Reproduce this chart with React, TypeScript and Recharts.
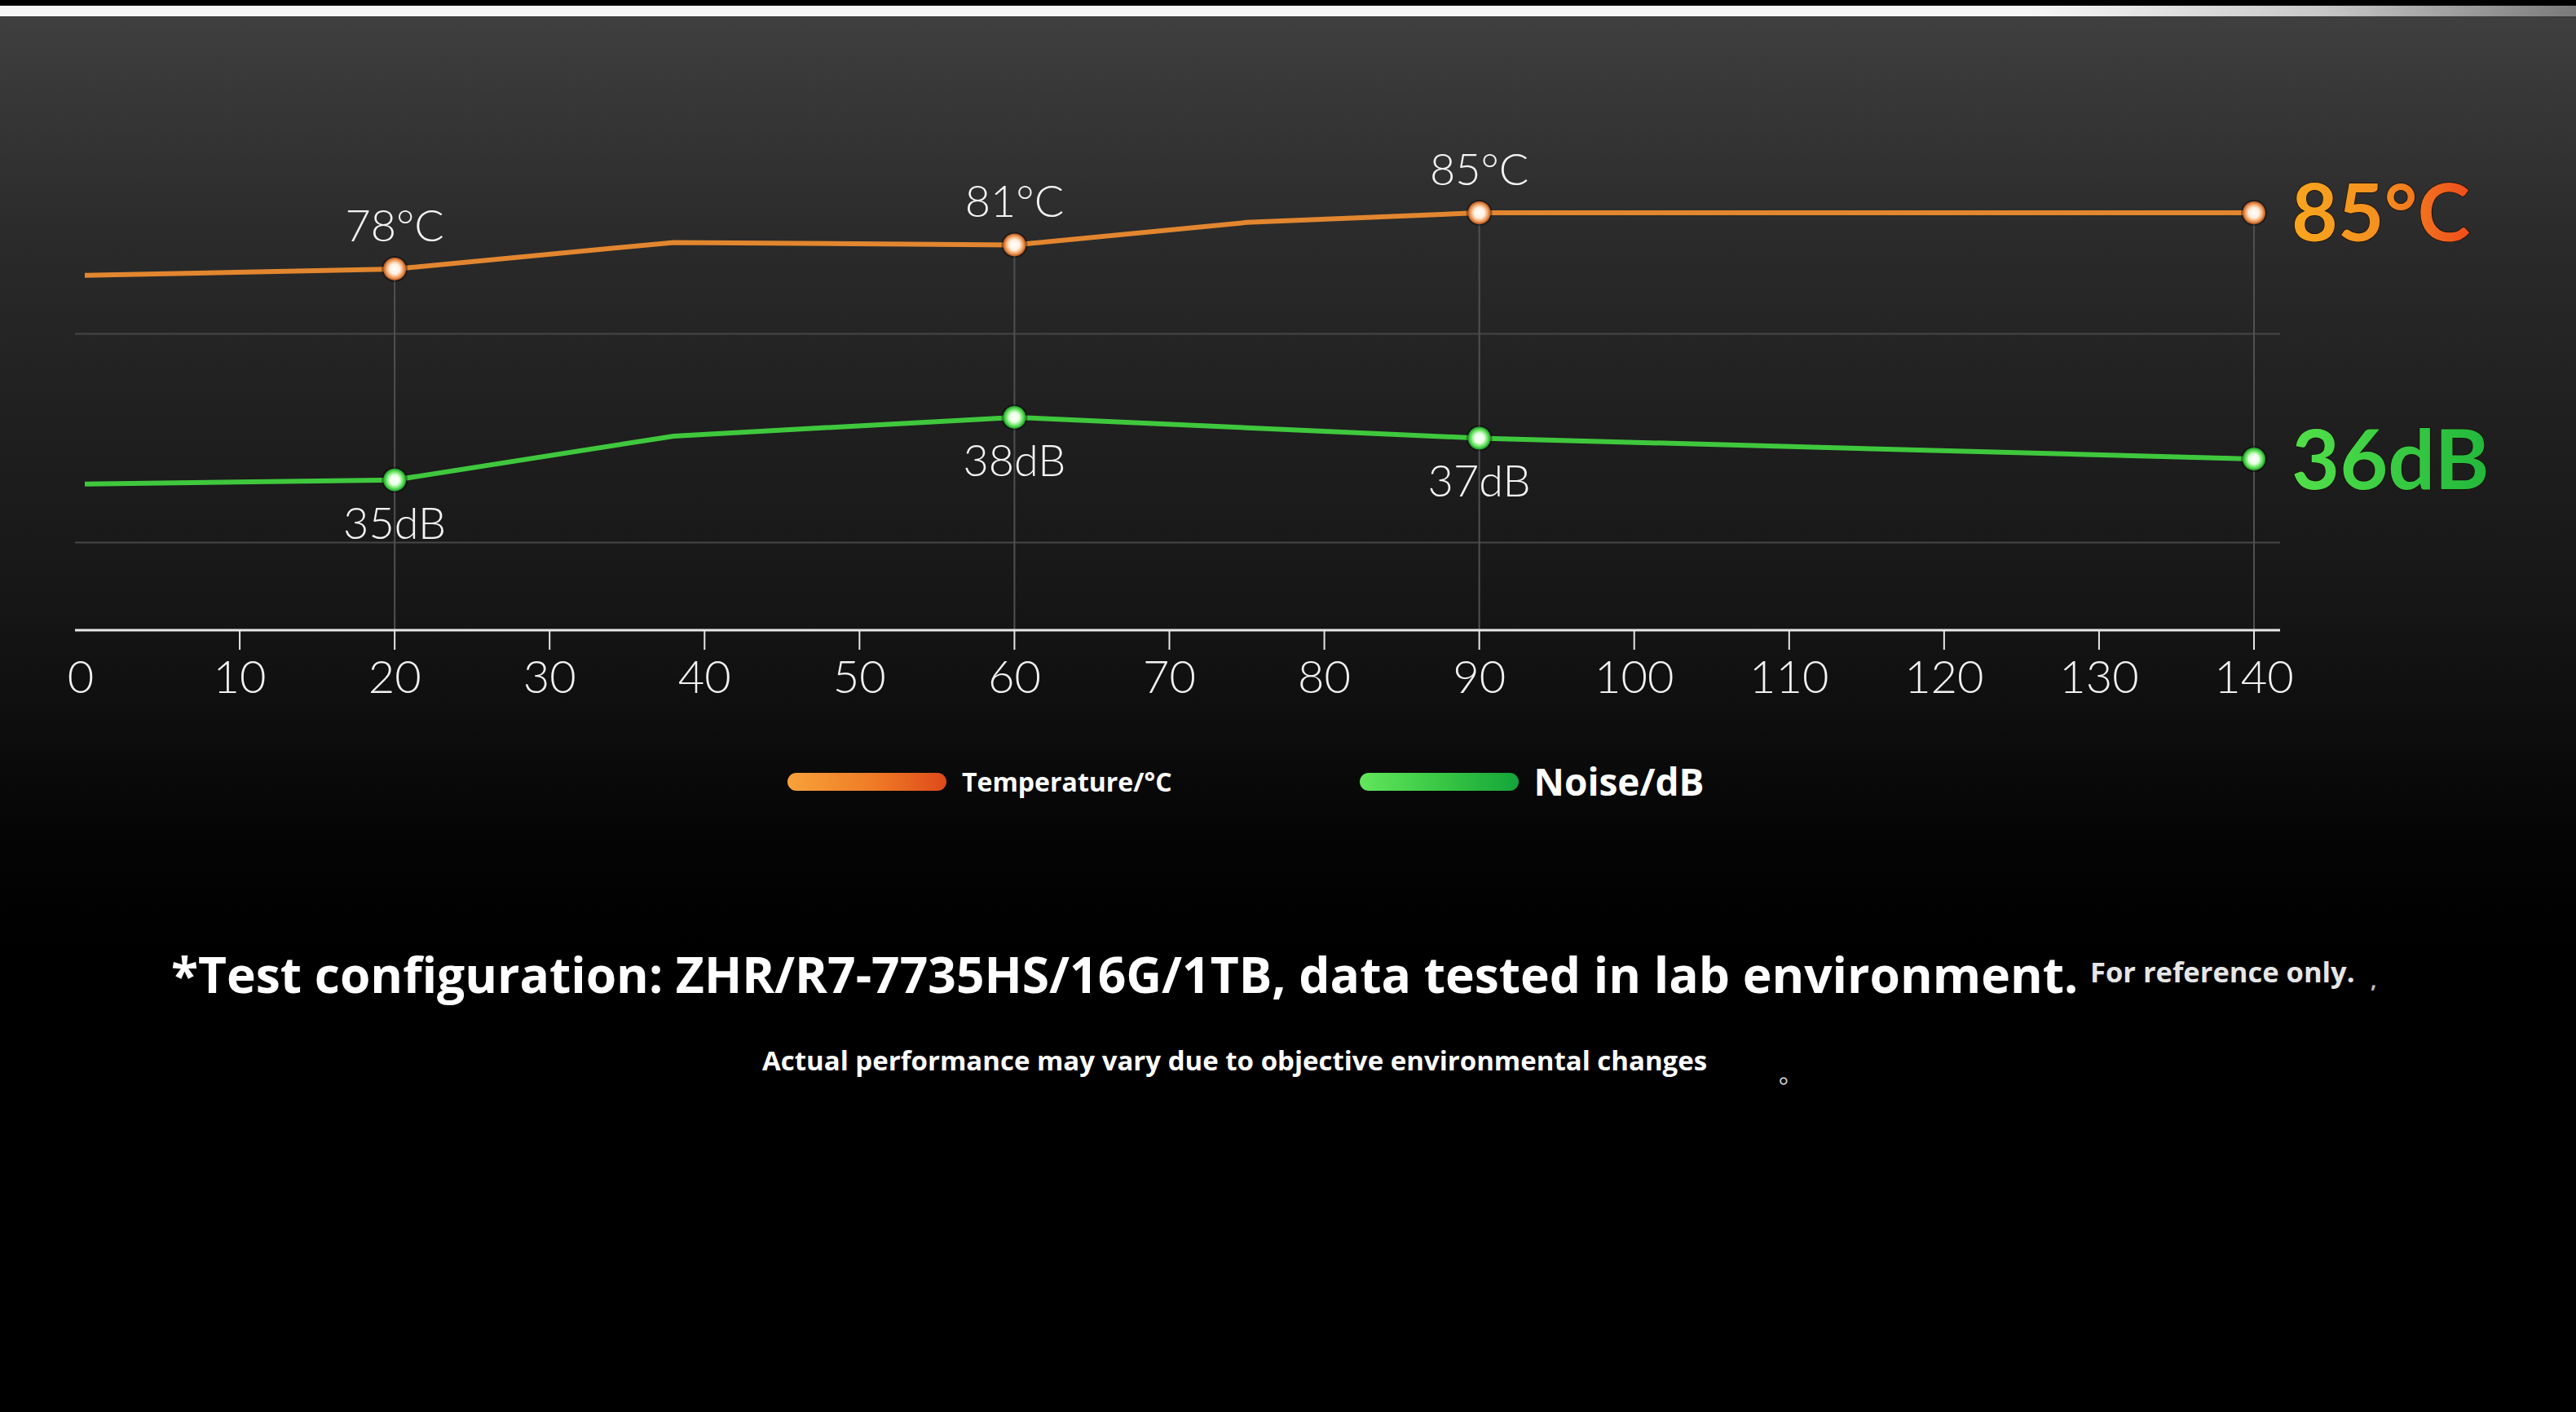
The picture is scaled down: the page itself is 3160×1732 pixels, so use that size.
import React from 'react';
import { LineChart, Line, XAxis, YAxis, CartesianGrid, ReferenceLine, Legend } from 'recharts';

// ---------- data ----------
const xTicks = [0, 10, 20, 30, 40, 50, 60, 70, 80, 90, 100, 110, 120, 130, 140];
const tempX = [0, 20, 38, 60, 75, 90, 140];
const tempValues = [77.2, 78, 81.3, 81, 83.8, 85, 85];
const noiseX = [0, 20, 38, 60, 90, 140];
const noiseValues = [34.8, 35, 37.1, 38, 37, 36];
const markedX = [20, 60, 90, 140];
const seriesNames = ['Temperature/°C', 'Noise/dB'];
const tempUnit = '°C';
const noiseUnit = 'dB';
const tempDomain = [33, 98];
const noiseDomain = [27.8, 52.8];
const noiseGridTicks = [32, 42];
const footnoteMain = '*Test configuration: ZHR/R7-7735HS/16G/1TB, data tested in lab environment.';
const footnoteRef = 'For reference only.';
const footnoteComma = ',';
const footnoteSecond = 'Actual performance may vary due to objective environmental changes';
const footnoteStop = '。';

const tempData = tempX.map((x, i) => ({ x, temp: tempValues[i] }));
const noiseData = noiseX.map((x, i) => ({ x, noise: noiseValues[i] }));

const THIN = "Lato, 'Open Sans', sans-serif";
const BOLD = "'Open Sans', 'Noto Sans', sans-serif";

const makeDot = (xs: number[], gradId: string) => (props: any) => {
  const { cx, cy, index } = props;
  if (!markedX.includes(xs[index])) return <g key={`d${index}`} />;
  return (
    <g key={`d${index}`}>
      <circle cx={cx} cy={cy} r={16} fill="#000" opacity={0.35} />
      <circle cx={cx} cy={cy} r={14} fill={`url(#${gradId})`} />
    </g>
  );
};

const makeLabel = (xs: number[], unit: string, gradId: string, above: boolean, bigSize: number) => (props: any) => {
  const { x, y, value, index } = props;
  if (index === xs.length - 1) {
    return (
      <text key={`l${index}`} x={x + 46} y={y} dy="0.36em" fontSize={bigSize} fontWeight={700}
        fontFamily={THIN} fill={`url(#${gradId})`} stroke="#1a0d05" strokeWidth={1.5} paintOrder="stroke">
        {`${value}${unit}`}
      </text>
    );
  }
  if (!markedX.includes(xs[index])) return <g key={`l${index}`} />;
  return (
    <text key={`l${index}`} x={x} y={above ? y - 34 : y + 72} textAnchor="middle" fontSize={54}
      fontWeight={300} fontFamily={THIN} fill="#f4f4f4">
      {`${value}${unit}`}
    </text>
  );
};

const XTick = (props: any) => {
  const { x, y, payload } = props;
  return (
    <g>
      {payload.value !== 0 && <line x1={x} x2={x} y1={y - 37} y2={y - 13} stroke="#e6e6e6" strokeWidth={2} />}
      <text x={payload.value === 0 ? x - 5 : x} y={y} dy="0.71em" textAnchor="middle" fontSize={56}
        fontWeight={300} fontFamily={THIN} fill="#f2f2f2">
        {payload.value}
      </text>
    </g>
  );
};

const legendBars = [
  'linear-gradient(90deg, #f8a23a 0%, #ef7a26 55%, #de4a1a 100%)',
  'linear-gradient(90deg, #62e65c 0%, #36c443 55%, #13a53a 100%)',
];
const legendSizes = [32, 46];

const renderLegend = (props: any) => {
  const payload = props.payload || [];
  const items = seriesNames.map((n) => payload.find((p: any) => p.value === n)).filter(Boolean);
  return (
    <div style={{ display: 'flex', alignItems: 'center', fontFamily: BOLD, fontWeight: 700, color: '#fff' }}>
      {items.map((p: any, i: number) => (
        <div key={i} style={{ display: 'flex', alignItems: 'center', marginLeft: i ? 230 : 0 }}>
          <div style={{ width: 195, height: 22, borderRadius: 11, background: legendBars[i] }} />
          <span style={{ marginLeft: 19, fontSize: legendSizes[i], lineHeight: 1.3 }}>{p.value}</span>
        </div>
      ))}
    </div>
  );
};

export default function App() {
  return (
    <div
      style={{
        position: 'absolute', left: 0, top: 0, width: 3160, height: 1732, overflow: 'hidden',
        background:
          'linear-gradient(to bottom, #000 0px, #000 6px, #3f3f3f 21px, #373737 120px, #2a2a2a 300px, #1f1f1f 520px, #171717 720px, #0e0e0e 880px, #050505 1020px, #000 1160px)',
      }}
    >
      <div style={{ position: 'absolute', left: 0, top: 7, width: 3160, height: 13,
        background: 'linear-gradient(to right, #f5f5f5 0%, #f5f5f5 79%, #c8c8c8 90%, #7a7a7a 100%)' }} />
      <div style={{ position: 'absolute', left: 0, top: 0 }}>
        <LineChart width={3160} height={1100} margin={{ top: 133, right: 363, bottom: 237, left: 92 }}>
          <defs>
            <radialGradient id="dotOrange" cx="50%" cy="50%" r="50%">
              <stop offset="0%" stopColor="#ffffff" />
              <stop offset="45%" stopColor="#fff0e0" />
              <stop offset="75%" stopColor="#f3a468" />
              <stop offset="100%" stopColor="#b9571b" />
            </radialGradient>
            <radialGradient id="dotGreen" cx="50%" cy="50%" r="50%">
              <stop offset="0%" stopColor="#ffffff" />
              <stop offset="42%" stopColor="#e9ffe4" />
              <stop offset="75%" stopColor="#62e25c" />
              <stop offset="100%" stopColor="#1d9a28" />
            </radialGradient>
            <linearGradient id="bigOrange" x1="0" y1="0" x2="1" y2="0">
              <stop offset="0%" stopColor="#f8a61e" />
              <stop offset="50%" stopColor="#f49020" />
              <stop offset="100%" stopColor="#ef4c1c" />
            </linearGradient>
            <linearGradient id="bigGreen" x1="0" y1="0" x2="1" y2="0">
              <stop offset="0%" stopColor="#52e04a" />
              <stop offset="100%" stopColor="#22b83c" />
            </linearGradient>
          </defs>
          <CartesianGrid yAxisId="noise" vertical={false} stroke="#474747" strokeWidth={2} syncWithTicks />
          <XAxis type="number" dataKey="x" domain={[0, 140]} ticks={xTicks} interval={0}
            padding={{ left: 12, right: 32 }} axisLine={{ stroke: '#e8e8e8', strokeWidth: 3 }}
            tickLine={false} tickSize={24} tickMargin={13} height={90} tick={<XTick />} />
          <YAxis yAxisId="temp" type="number" domain={tempDomain} hide />
          <YAxis yAxisId="noise" type="number" domain={noiseDomain} ticks={noiseGridTicks} hide />
          {markedX.map((x) => (
            <ReferenceLine key={`v${x}`} yAxisId="temp"
              segment={[{ x, y: tempValues[tempX.indexOf(x)] }, { x, y: tempDomain[0] }]}
              stroke="#505050" strokeWidth={2} />
          ))}
          <Line yAxisId="noise" data={noiseData} dataKey="noise" name={seriesNames[1]} type="linear"
            stroke="#3fc83d" strokeWidth={6} dot={makeDot(noiseX, 'dotGreen')} activeDot={false}
            label={makeLabel(noiseX, noiseUnit, 'bigGreen', false, 102)} isAnimationActive={false} />
          <Line yAxisId="temp" data={tempData} dataKey="temp" name={seriesNames[0]} type="linear"
            stroke="#e2862f" strokeWidth={6} dot={makeDot(tempX, 'dotOrange')} activeDot={false}
            label={makeLabel(tempX, tempUnit, 'bigOrange', true, 98)} isAnimationActive={false} />
          <Legend verticalAlign="middle" align="center" layout="horizontal" content={renderLegend}
            wrapperStyle={{ top: 929, left: 966, width: 1300, height: 64 }} />
        </LineChart>
      </div>
      <svg width={3160} height={1732} style={{ position: 'absolute', left: 0, top: 0, pointerEvents: 'none' }}>
        <text x={210} y={1218} fontSize={60.5} fontWeight={700} fontFamily={BOLD} fill="#ffffff">{footnoteMain}</text>
        <text x={2564} y={1205} fontSize={34.5} fontWeight={700} fontFamily={BOLD} fill="#e6e6e6">{footnoteRef}</text>
        <text x={2908} y={1212} fontSize={26} fontWeight={700} fontFamily={BOLD} fill="#bbbbbb">{footnoteComma}</text>
        <text x={935} y={1313} fontSize={33} fontWeight={700} fontFamily={BOLD} fill="#ffffff">{footnoteSecond}</text>
        <text x={2182} y={1328} fontSize={30} fontFamily="'Noto Sans CJK SC', sans-serif" fill="#dddddd">{footnoteStop}</text>
      </svg>
    </div>
  );
}
